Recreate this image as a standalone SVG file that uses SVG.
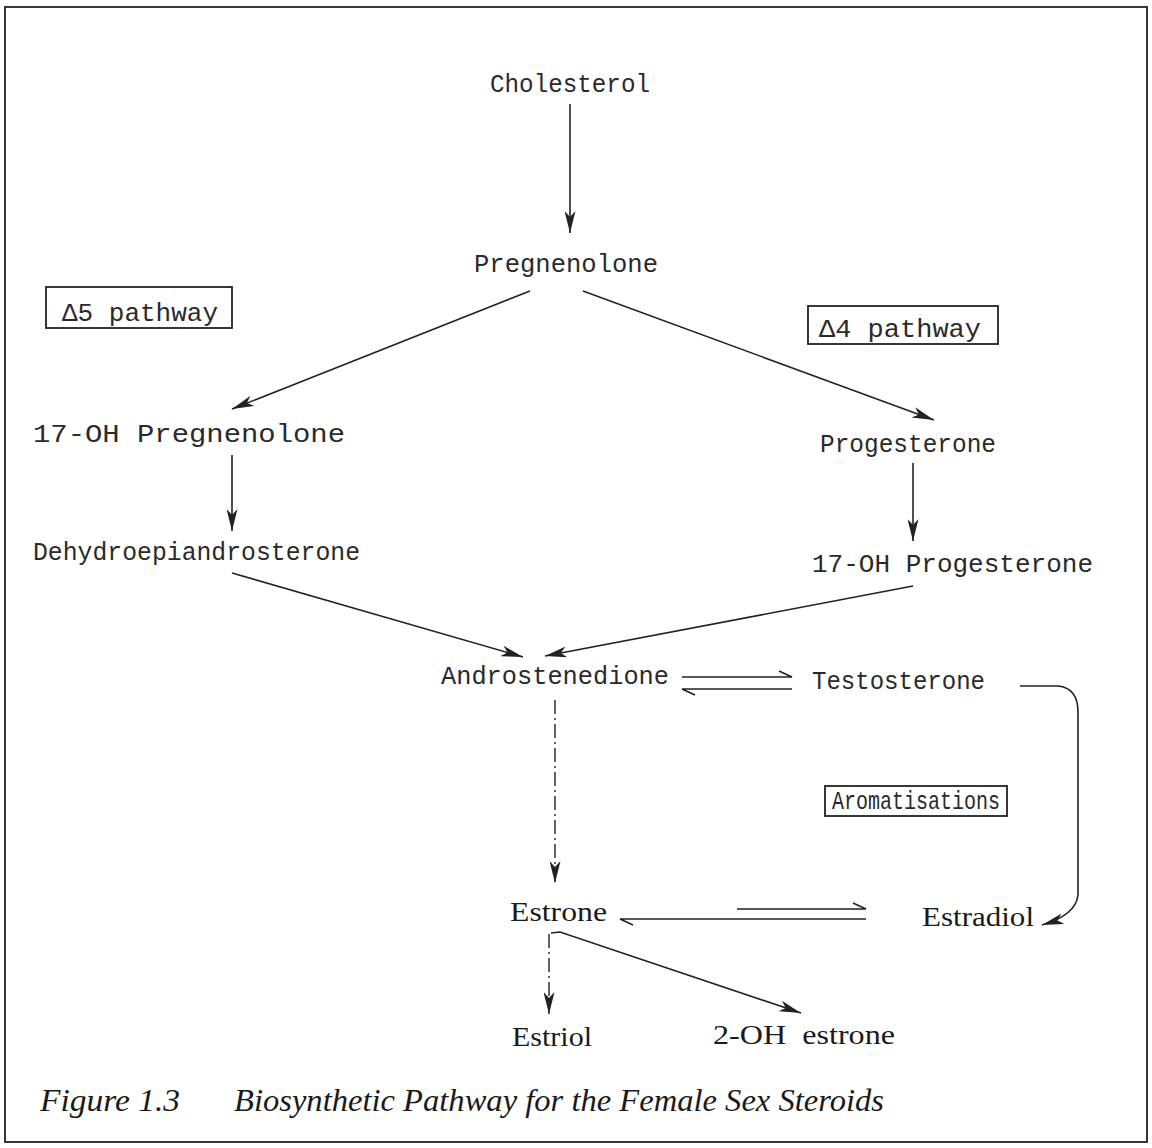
<svg xmlns="http://www.w3.org/2000/svg" width="1152" height="1148" viewBox="0 0 1152 1148">
<defs>
<style>
.t{font-family:"Liberation Mono","DejaVu Sans Mono",monospace;font-size:26px;fill:#2a2a2a}
.s{font-family:"Liberation Serif","DejaVu Serif",serif;font-size:27px;fill:#1a1a1a}
.cap{font-family:"Liberation Serif","DejaVu Serif",serif;font-style:italic;font-size:32px;fill:#1a1a1a}
.ln{stroke:#222;stroke-width:1.6;fill:none}
.box{stroke:#222;stroke-width:1.8;fill:none}
.dash{stroke:#222;stroke-width:1.4;fill:none;stroke-dasharray:14 4 2 4}
</style>
<marker id="ah" viewBox="0 0 22 11" refX="22" refY="5.5" markerWidth="22" markerHeight="11" markerUnits="userSpaceOnUse" orient="auto">
<path d="M0,0 L22,5.5 L0,11 L6,5.5 Z" fill="#222"/>
</marker>
</defs>
<rect x="0" y="0" width="1152" height="1148" fill="#fff"/>
<rect x="5" y="7" width="1142" height="1135" class="box"/>

<g id="connectors">
<line x1="570" y1="104" x2="570" y2="233" class="ln" marker-end="url(#ah)"/>
<line x1="530" y1="291" x2="232" y2="409" class="ln" marker-end="url(#ah)"/>
<line x1="583" y1="291" x2="934" y2="420" class="ln" marker-end="url(#ah)"/>
<line x1="232" y1="455" x2="232" y2="531" class="ln" marker-end="url(#ah)"/>
<line x1="913" y1="463" x2="913" y2="541" class="ln" marker-end="url(#ah)"/>
<line x1="232" y1="573" x2="523" y2="657" class="ln" marker-end="url(#ah)"/>
<line x1="913" y1="586" x2="545" y2="656" class="ln" marker-end="url(#ah)"/>
<path d="M682,677 L792,677 L779,671" class="ln"/>
<path d="M792,689 L682,689 L695,695" class="ln"/>
<path d="M1020,686 L1058,686 Q1078,688 1078,712 L1078,895 Q1076,915 1042,925" class="ln" marker-end="url(#ah)"/>
<line x1="555" y1="700" x2="555" y2="883" class="dash" marker-end="url(#ah)"/>
<path d="M737,909 L866,909 L853,903" class="ln"/>
<path d="M866,919 L620,919 L633,925" class="ln"/>
<line x1="549" y1="934" x2="549" y2="1014" class="dash" marker-end="url(#ah)"/>
<path d="M551,933 L560,932 L801,1013" class="ln" marker-end="url(#ah)"/>
</g>

<g id="cholesterol"><text class="t" x="490" y="92" textLength="160" lengthAdjust="spacingAndGlyphs">Cholesterol</text></g>
<g id="pregnenolone"><text class="t" x="474" y="272" textLength="184" lengthAdjust="spacingAndGlyphs">Pregnenolone</text></g>
<g id="d5pathway"><rect x="46" y="287" width="186" height="41" class="box"/><text class="t" x="62" y="321" textLength="156" lengthAdjust="spacingAndGlyphs">Δ5 pathway</text></g>
<g id="d4pathway"><rect x="808" y="306" width="190" height="38" class="box"/><text class="t" x="819" y="337" textLength="162" lengthAdjust="spacingAndGlyphs">Δ4 pathway</text></g>
<g id="oh17preg"><text class="t" x="33" y="442" textLength="312" lengthAdjust="spacingAndGlyphs">17-OH Pregnenolone</text></g>
<g id="progesterone"><text class="t" x="820" y="452" textLength="176" lengthAdjust="spacingAndGlyphs">Progesterone</text></g>
<g id="dhea"><text class="t" x="33" y="560" textLength="327" lengthAdjust="spacingAndGlyphs">Dehydroepiandrosterone</text></g>
<g id="oh17prog"><text class="t" x="812" y="572" textLength="281" lengthAdjust="spacingAndGlyphs">17-OH Progesterone</text></g>
<g id="androstenedione"><text class="t" x="441" y="684" textLength="228" lengthAdjust="spacingAndGlyphs">Androstenedione</text></g>
<g id="testosterone"><text class="t" x="812" y="689" textLength="173" lengthAdjust="spacingAndGlyphs">Testosterone</text></g>
<g id="aromatisations"><rect x="825" y="786" width="182" height="30" class="box"/><text class="t" x="832" y="809" textLength="168" lengthAdjust="spacingAndGlyphs">Aromatisations</text></g>
<g id="estrone"><text class="s" x="510" y="921" textLength="97" lengthAdjust="spacingAndGlyphs">Estrone</text></g>
<g id="estradiol"><text class="s" x="922" y="926" textLength="112" lengthAdjust="spacingAndGlyphs">Estradiol</text></g>
<g id="estriol"><text class="s" x="512" y="1046" textLength="80" lengthAdjust="spacingAndGlyphs">Estriol</text></g>
<g id="oh2estrone"><text class="s" x="713" y="1044" textLength="182" lengthAdjust="spacingAndGlyphs" style="white-space:pre">2-OH  estrone</text></g>

<g id="caption">
<text class="cap" x="40" y="1111" textLength="140" lengthAdjust="spacingAndGlyphs">Figure 1.3</text>
<text class="cap" x="234" y="1111" textLength="650" lengthAdjust="spacingAndGlyphs">Biosynthetic Pathway for the Female Sex Steroids</text>
</g>
</svg>
